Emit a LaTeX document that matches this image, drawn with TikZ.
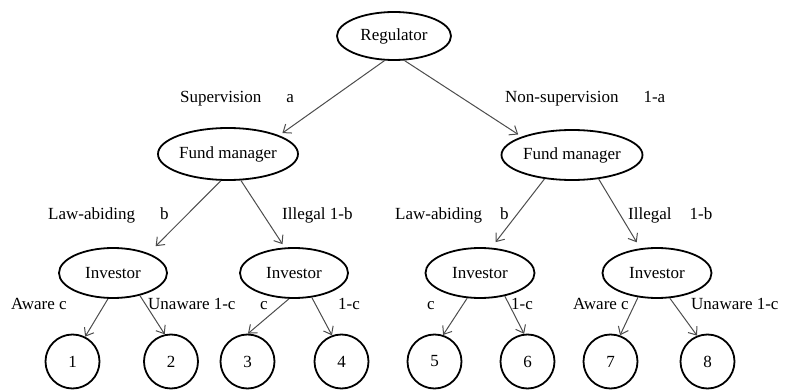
\documentclass[tikz,border=0pt]{standalone}
\usepackage{fontspec}
\setmainfont{Liberation Serif}
\usetikzlibrary{shapes.geometric}
\usetikzlibrary{arrows.meta}

\begin{document}
\begin{tikzpicture}[x=1pt, y=1pt, font=\fontsize{17}{20}\selectfont,
  oval/.style = {draw, ellipse, line width=1.8pt, inner sep=0pt, minimum width=108pt, minimum height=50pt},
  leaf/.style = {draw, circle, line width=1.8pt, inner sep=0pt, minimum size=54pt},
  arr/.style = {draw=black!70, line width=1pt, -{Straight Barb[length=7pt,width=11pt]}},
  lbl/.style = {anchor=base west, inner sep=0pt}]
  \useasboundingbox (0,0) rectangle (788,389);
  % players
  \node[oval, minimum width=114pt, minimum height=48pt] (reg) at (394,353) {Regulator};
  \node[oval, minimum width=140pt, minimum height=52pt] (fml) at (228,235) {Fund manager};
  \node[oval, minimum width=141pt] (fmr) at (572,234) {Fund manager};
  \node[oval] (inv1) at (113,116) {Investor};
  \node[oval] (inv2) at (294,116) {Investor};
  \node[oval, minimum width=109pt] (inv3) at (480,116) {Investor};
  \node[oval, minimum width=109pt] (inv4) at (657,116) {Investor};
  % outcomes
  \node[leaf] (l1) at (72.5,27.5) {1};
  \node[leaf] (l2) at (171,27.5) {2};
  \node[leaf] (l3) at (247.5,27.5) {3};
  \node[leaf] (l4) at (341.5,27.5) {4};
  \node[leaf] (l5) at (434.5,27.5) {5};
  \node[leaf] (l6) at (527.5,27.5) {6};
  \node[leaf] (l7) at (610.5,27.5) {7};
  \node[leaf] (l8) at (707.5,27.5) {8};
  % branches
  \draw[arr, shorten >=4pt] (reg.249) -- (fml.20);
  \draw[arr, shorten >=4pt] (reg.293) -- (fmr.160);
  \draw[arr, shorten >=10pt] (fml.255) -- (inv1.29);
  \draw[arr, shorten >=4pt] (fml.296) -- (inv2.110);
  \draw[arr, shorten >=7pt] (fmr.221) -- (inv3.66);
  \draw[arr, shorten >=7pt] (fmr.318) -- (inv4.124);
  \draw[arr] (inv1.259) -- (l1.63);
  \draw[arr] (inv1.320) -- (l2.103);
  \draw[arr] (inv2.259) -- (l3.89);
  \draw[arr] (inv2.306) -- (l4.110);
  \draw[arr] (inv3.243) -- (l5.72);
  \draw[arr] (inv3.317) -- (l6.97);
  \draw[arr] (inv4.232) -- (l7.70);
  \draw[arr] (inv4.297) -- (l8.112);
  % probabilities
  \node[lbl] (sup) at (180,286) {Supervision\hspace{25pt}a};
  \node[lbl] (nsup) at (505,286) {Non-supervision\hspace{25pt}1-a};
  \node[lbl] (lawl) at (48,169) {Law-abiding\hspace{25pt}b};
  \node[lbl] (illl) at (282,169) {Illegal 1-b};
  \node[lbl] (lawr) at (395,169) {Law-abiding\hspace{18pt}b};
  \node[lbl] (illr) at (628,169) {Illegal\hspace{18pt}1-b};
  \node[lbl] (aw1) at (11,80) {Aware c};
  \node[lbl] (un1) at (148,80) {Unaware 1-c};
  \node[lbl] (aw2) at (260,80) {c};
  \node[lbl] (un2) at (338,80) {1-c};
  \node[lbl] (aw3) at (427,80) {c};
  \node[lbl] (un3) at (511,80) {1-c};
  \node[lbl] (aw4) at (573,80) {Aware c};
  \node[lbl] (un4) at (691,80) {Unaware 1-c};
\end{tikzpicture}
\end{document}
